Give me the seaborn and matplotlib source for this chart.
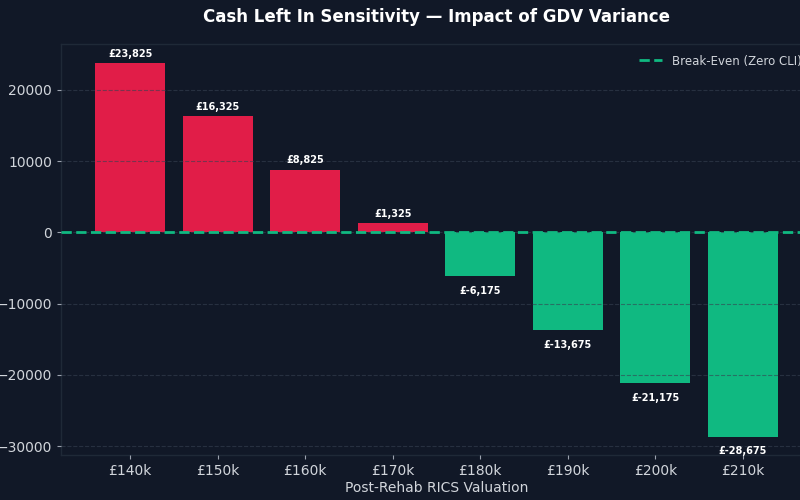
import matplotlib
matplotlib.use("Agg")
import matplotlib.pyplot as plt
import seaborn as sns
import pandas as pd

categories = ["£140k", "£150k", "£160k", "£170k", "£180k", "£190k", "£200k", "£210k"]
cash_left_in = [23825, 16325, 8825, 1325, -6175, -13675, -21175, -28675]

BG = "#111827"
RED = "#e11d48"
GREEN = "#10b981"
TXT = "#d1d5db"

sns.set_theme(style="dark")
plt.rcParams["font.family"] = ["DejaVu Sans"]

df = pd.DataFrame({"cat": categories, "val": cash_left_in})
df["sign"] = ["pos" if v > 0 else "neg" for v in df["val"]]

fig = plt.figure(figsize=(8, 5), dpi=100, facecolor=BG)
ax = fig.add_axes([61 / 800, 45 / 500, (812 - 61) / 800, (455 - 44) / 500])
ax.set_facecolor(BG)

sns.barplot(data=df, x="cat", y="val", hue="sign", palette={"pos": RED, "neg": GREEN},
            order=categories, width=0.8, legend=False, ax=ax, saturation=1,
            linewidth=0)

ax.axhline(0, color=GREEN, linestyle="--", linewidth=2, label="Break-Even (Zero CLI)",
           zorder=5)

for i, v in enumerate(cash_left_in):
    if v > 0:
        ax.annotate(f"£{v:,}", (i, v), xytext=(0, 3), textcoords="offset points",
                    ha="center", va="bottom", color="white", fontsize=7, fontweight="bold")
    else:
        ax.annotate(f"£{v:,}", (i, v), xytext=(0, -7), textcoords="offset points",
                    ha="center", va="top", color="white", fontsize=7, fontweight="bold")

ax.set_xlim(-0.79, 7.79)
ax.set_ylim(-31250, 26450)
ax.set_yticks([-30000, -20000, -10000, 0, 10000, 20000])
ax.set_axisbelow(False)
ax.yaxis.grid(True, color="#374151", linestyle="--", linewidth=0.8, alpha=0.6, zorder=3)
ax.xaxis.grid(False)

for s in ax.spines.values():
    s.set_color("#1f2937")
    s.set_linewidth(1)

ax.tick_params(axis="both", colors=TXT, labelsize=10, length=3, width=0.8, left=True, bottom=True)
ax.tick_params(axis="both", color="#9ca3af")
ax.set_xlabel("Post-Rehab RICS Valuation", color=TXT, fontsize=10, labelpad=2)
ax.set_ylabel("")

ax.set_title("Cash Left In Sensitivity — Impact of GDV Variance", color="white",
             fontsize=12, fontweight="bold", pad=16)

leg = ax.legend(loc="upper right", frameon=False, fontsize=8.5, labelcolor=TXT,
                bbox_to_anchor=(1.0, 1.0))

fig.savefig("out.png", dpi=100, facecolor=BG)
